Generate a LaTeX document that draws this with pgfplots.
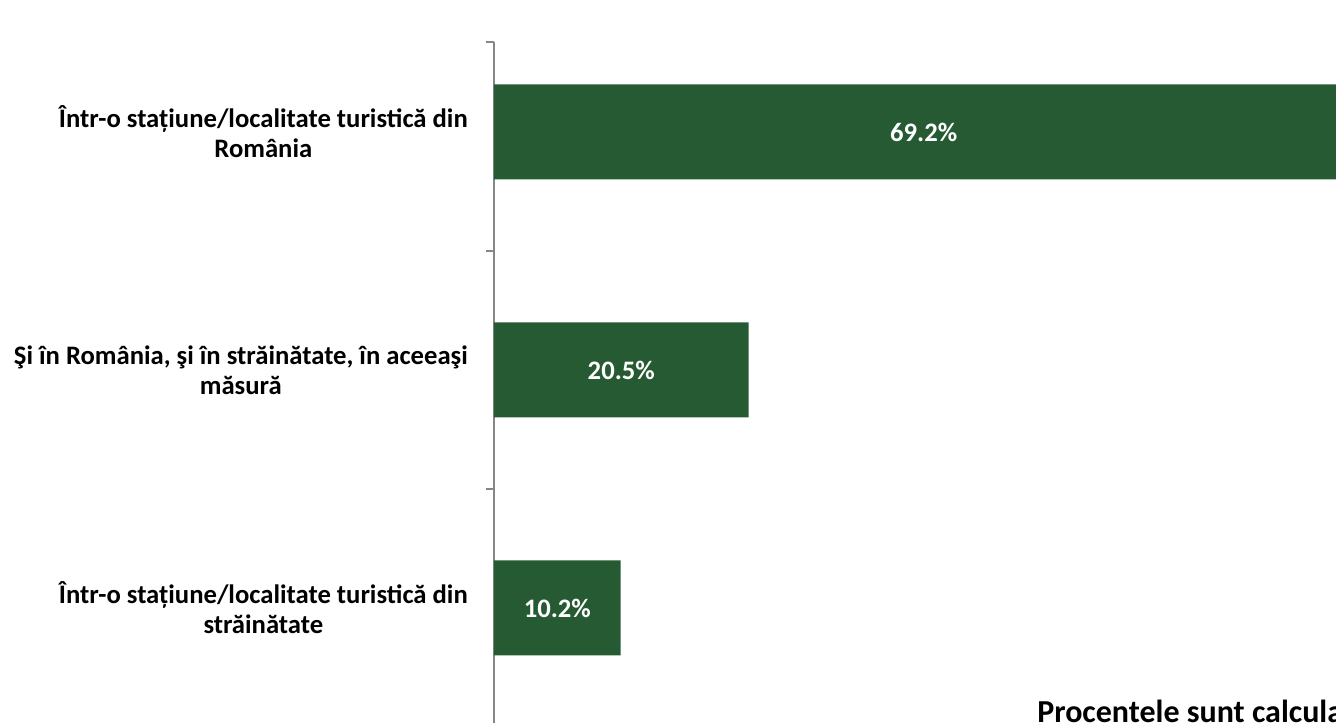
\documentclass[border=0pt]{standalone}
\usepackage{pgfplots}
\pgfplotsset{compat=1.18}
\usepackage{fontspec}
\setmainfont{Carlito}
\definecolor{bargreen}{HTML}{265A33}
\definecolor{axisgray}{HTML}{868686}
\begin{document}
\begin{tikzpicture}
\useasboundingbox (0,0) rectangle (1002pt,-542.25pt);
\clip (0,0) rectangle (1002pt,-542.25pt);
\begin{axis}[
  at={(370.5pt,-31.5pt)}, anchor=north west,
  scale only axis, width=745.2pt, height=531.6pt,
  xmin=0, xmax=80, ymin=-0.378, ymax=2.6, y dir=reverse,
  axis y line*=left, axis x line=none,
  y axis line style={draw=axisgray, line width=1.5pt},
  xtick=\empty,
  ytick={0,1,2},
  yticklabels={{Într-o stațiune/localitate turistică din\\România},
               {Şi în România, şi în străinătate, în aceeaşi\\măsură},
               {Într-o stațiune/localitate turistică din\\străinătate}},
  yticklabel style={align=center, inner sep=0pt, xshift=-19.5pt,
    font=\bfseries\fontsize{20}{22.5}\selectfont},
  major tick length=0pt,
  tick align=outside,
  extra y ticks={-0.378,0.5,1.5,2.5},
  extra y tick labels={},
  extra y tick style={major tick length=6pt,
    tick style={draw=axisgray, line width=1.5pt}},
  /pgf/number format/assume math mode=true,
]
\addplot[xbar, bar width=71.25pt, fill=bargreen, draw=none] table {
x y
69.2 0
20.5 1
10.2 2
};
\addplot[draw=none, mark=none, point meta=explicit,
  nodes near coords={\pgfmathprintnumber[fixed, precision=1, fixed zerofill, assume math mode=true]{\pgfplotspointmeta}\%},
  nodes near coords style={anchor=center, text=white,
    font=\bfseries\fontsize{20}{22}\selectfont}]
  table[x expr=\thisrow{x}/2, y=y, meta=x] {
x y
69.2 0
20.5 1
10.2 2
};
\end{axis}
\node[anchor=base west, inner sep=0pt, font=\bfseries\fontsize{24}{28}\selectfont]
  at (777.75pt,-541.5pt) {Procentele sunt calculate din total};
\end{tikzpicture}
\end{document}
